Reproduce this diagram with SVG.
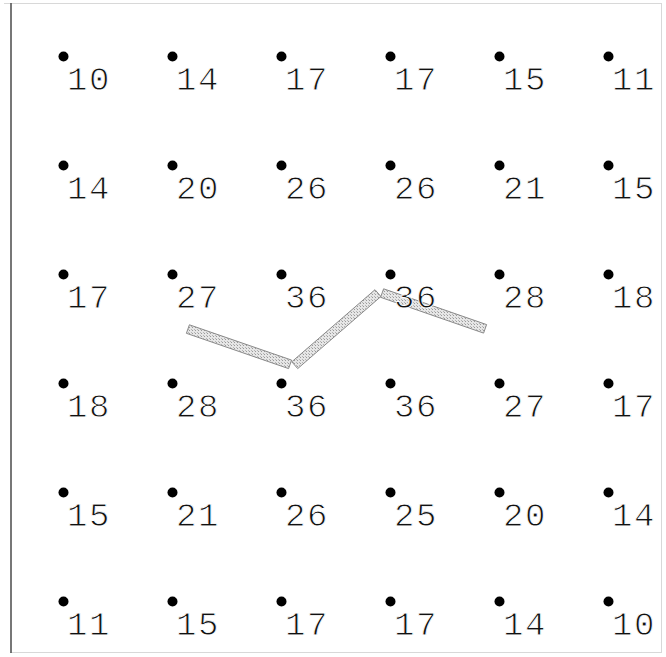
<svg xmlns="http://www.w3.org/2000/svg" width="666" height="657" viewBox="0 0 666 657">
<defs>
<pattern id="hatch" width="3" height="3" patternUnits="userSpaceOnUse">
<rect width="3" height="3" fill="#e6e6e6"/>
<rect width="1" height="1" fill="#9a9a9a"/>
<rect x="2" y="2" width="1" height="1" fill="#b5b5b5"/>
</pattern>
</defs>
<style>
.dot{fill:#000}
.lbl{font-family:"Liberation Mono","DejaVu Sans Mono",monospace;font-size:34px;fill:#111;letter-spacing:1.5px;stroke:#fff;stroke-width:0.9px}
.bar{fill:url(#hatch);stroke:#8a8a8a;stroke-width:1}
</style>
<rect x="0" y="0" width="666" height="657" fill="#fff"/>
<line x1="4" y1="3.5" x2="661" y2="3.5" stroke="#d8d8d8" stroke-width="1"/>
<line x1="661.5" y1="3" x2="661.5" y2="653" stroke="#d8d8d8" stroke-width="1"/>
<line x1="10" y1="652.5" x2="661" y2="652.5" stroke="#d8d8d8" stroke-width="1"/>
<line x1="11" y1="3" x2="11" y2="653" stroke="#555" stroke-width="1.6"/>

<g id="connectors">
<polygon class="bar" points="189.4,324.8 291.6,360.1 288.6,368.6 186.4,333.3"/>
<polygon class="bar" points="291.8,361.8 375.0,289.7 380.9,296.5 297.7,368.6"/>
<polygon class="bar" points="383.6,288.8 486.6,324.6 483.6,333.1 380.6,297.3"/>
</g>

<g id="n-0-0"><circle class="dot" cx="63.5" cy="56.5" r="5"/><text class="lbl" x="67" y="90">10</text></g>
<g id="n-0-1"><circle class="dot" cx="172.5" cy="56.5" r="5"/><text class="lbl" x="176" y="90">14</text></g>
<g id="n-0-2"><circle class="dot" cx="281.5" cy="56.5" r="5"/><text class="lbl" x="285" y="90">17</text></g>
<g id="n-0-3"><circle class="dot" cx="390.5" cy="56.5" r="5"/><text class="lbl" x="394" y="90">17</text></g>
<g id="n-0-4"><circle class="dot" cx="499.5" cy="56.5" r="5"/><text class="lbl" x="503" y="90">15</text></g>
<g id="n-0-5"><circle class="dot" cx="608.5" cy="56.5" r="5"/><text class="lbl" x="612" y="90">11</text></g>

<g id="n-1-0"><circle class="dot" cx="63.5" cy="165.5" r="5"/><text class="lbl" x="67" y="199">14</text></g>
<g id="n-1-1"><circle class="dot" cx="172.5" cy="165.5" r="5"/><text class="lbl" x="176" y="199">20</text></g>
<g id="n-1-2"><circle class="dot" cx="281.5" cy="165.5" r="5"/><text class="lbl" x="285" y="199">26</text></g>
<g id="n-1-3"><circle class="dot" cx="390.5" cy="165.5" r="5"/><text class="lbl" x="394" y="199">26</text></g>
<g id="n-1-4"><circle class="dot" cx="499.5" cy="165.5" r="5"/><text class="lbl" x="503" y="199">21</text></g>
<g id="n-1-5"><circle class="dot" cx="608.5" cy="165.5" r="5"/><text class="lbl" x="612" y="199">15</text></g>

<g id="n-2-0"><circle class="dot" cx="63.5" cy="274.5" r="5"/><text class="lbl" x="67" y="308">17</text></g>
<g id="n-2-1"><circle class="dot" cx="172.5" cy="274.5" r="5"/><text class="lbl" x="176" y="308">27</text></g>
<g id="n-2-2"><circle class="dot" cx="281.5" cy="274.5" r="5"/><text class="lbl" x="285" y="308">36</text></g>
<g id="n-2-3"><circle class="dot" cx="390.5" cy="274.5" r="5"/><text class="lbl" x="394" y="308">36</text></g>
<g id="n-2-4"><circle class="dot" cx="499.5" cy="274.5" r="5"/><text class="lbl" x="503" y="308">28</text></g>
<g id="n-2-5"><circle class="dot" cx="608.5" cy="274.5" r="5"/><text class="lbl" x="612" y="308">18</text></g>

<g id="n-3-0"><circle class="dot" cx="63.5" cy="383.5" r="5"/><text class="lbl" x="67" y="417">18</text></g>
<g id="n-3-1"><circle class="dot" cx="172.5" cy="383.5" r="5"/><text class="lbl" x="176" y="417">28</text></g>
<g id="n-3-2"><circle class="dot" cx="281.5" cy="383.5" r="5"/><text class="lbl" x="285" y="417">36</text></g>
<g id="n-3-3"><circle class="dot" cx="390.5" cy="383.5" r="5"/><text class="lbl" x="394" y="417">36</text></g>
<g id="n-3-4"><circle class="dot" cx="499.5" cy="383.5" r="5"/><text class="lbl" x="503" y="417">27</text></g>
<g id="n-3-5"><circle class="dot" cx="608.5" cy="383.5" r="5"/><text class="lbl" x="612" y="417">17</text></g>

<g id="n-4-0"><circle class="dot" cx="63.5" cy="492.5" r="5"/><text class="lbl" x="67" y="526">15</text></g>
<g id="n-4-1"><circle class="dot" cx="172.5" cy="492.5" r="5"/><text class="lbl" x="176" y="526">21</text></g>
<g id="n-4-2"><circle class="dot" cx="281.5" cy="492.5" r="5"/><text class="lbl" x="285" y="526">26</text></g>
<g id="n-4-3"><circle class="dot" cx="390.5" cy="492.5" r="5"/><text class="lbl" x="394" y="526">25</text></g>
<g id="n-4-4"><circle class="dot" cx="499.5" cy="492.5" r="5"/><text class="lbl" x="503" y="526">20</text></g>
<g id="n-4-5"><circle class="dot" cx="608.5" cy="492.5" r="5"/><text class="lbl" x="612" y="526">14</text></g>

<g id="n-5-0"><circle class="dot" cx="63.5" cy="601.5" r="5"/><text class="lbl" x="67" y="635">11</text></g>
<g id="n-5-1"><circle class="dot" cx="172.5" cy="601.5" r="5"/><text class="lbl" x="176" y="635">15</text></g>
<g id="n-5-2"><circle class="dot" cx="281.5" cy="601.5" r="5"/><text class="lbl" x="285" y="635">17</text></g>
<g id="n-5-3"><circle class="dot" cx="390.5" cy="601.5" r="5"/><text class="lbl" x="394" y="635">17</text></g>
<g id="n-5-4"><circle class="dot" cx="499.5" cy="601.5" r="5"/><text class="lbl" x="503" y="635">14</text></g>
<g id="n-5-5"><circle class="dot" cx="608.5" cy="601.5" r="5"/><text class="lbl" x="612" y="635">10</text></g>
</svg>
